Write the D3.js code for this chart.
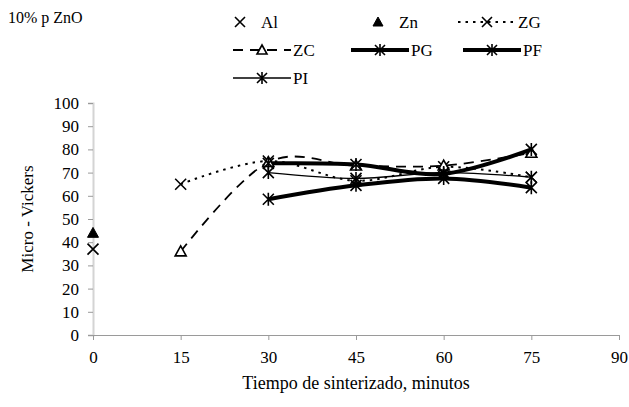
<!DOCTYPE html>
<html><head><meta charset="utf-8">
<script src="https://cdn.jsdelivr.net/npm/d3@7"></script>
<style>
body{margin:0;background:#fff}
svg{display:block}
text{font-family:"Liberation Serif","Times New Roman",serif;fill:#000}
</style>
</head><body>
<script>
// ---- data ----
const xTicks = [0, 15, 30, 45, 60, 75, 90];
const yTicks = [0, 10, 20, 30, 40, 50, 60, 70, 80, 90, 100];
const alX = [0],  alY = [37];
const znX = [0],  znY = [44];
const zgX = [15, 30, 45, 60, 75], zgY = [65, 75, 66.5, 72.5, 68];
const zcX = [15, 30, 45, 60, 75], zcY = [36, 74.5, 73, 73, 78.5];
const pgX = [30, 45, 60, 75], pgY = [58.5, 64.5, 67.5, 63.5];
const pfX = [30, 45, 60, 75], pfY = [74, 73.5, 69.5, 80];
const piX = [30, 45, 60, 75], piY = [70, 67.5, 70, 68];
const title = "10% p ZnO";
const xTitle = "Tiempo de sinterizado, minutos";
const yTitle = "Micro - Vickers";

const W = 629, H = 407;
const FONT = "'Liberation Serif','Times New Roman',serif";
const svg = d3.select("body").append("svg").attr("width", W).attr("height", H)
  .attr("font-family", FONT);

const x = d3.scaleLinear().domain([0, 90]).range([93, 619]);
const y = d3.scaleLinear().domain([0, 100]).range([335, 103]);

// axes
const yAx = svg.append("g").attr("transform", `translate(${x(0)},0)`)
  .call(d3.axisLeft(y).tickValues(yTicks).tickSize(5).tickPadding(9));
yAx.attr("font-family", FONT).attr("font-size", 17);
yAx.select(".domain").attr("stroke", "#d4d4d4").attr("stroke-width", 2);
yAx.selectAll(".tick line").attr("stroke", "#9a9a9a");
yAx.selectAll("text").attr("fill", "#000");

const xAx = svg.append("g").attr("transform", `translate(0,${y(0)})`)
  .call(d3.axisBottom(x).tickValues(xTicks).tickSize(5).tickPadding(11));
xAx.attr("font-family", FONT).attr("font-size", 17);
xAx.select(".domain").attr("stroke", "#9a9a9a").attr("stroke-width", 1);
xAx.selectAll(".tick line").attr("stroke", "#9a9a9a");
xAx.selectAll("text").attr("fill", "#000");

// titles
svg.append("text").attr("x", 8).attr("y", 23).attr("font-size", 16).text(title);
svg.append("text").attr("x", (x(0) + x(90)) / 2).attr("y", 389)
  .attr("text-anchor", "middle").attr("font-size", 18).text(xTitle);
svg.append("text").attr("transform", `translate(33,${(y(0) + y(100)) / 2}) rotate(-90)`)
  .attr("text-anchor", "middle").attr("font-size", 17).text(yTitle);

// marker drawing
function marker(g, type, cx, cy, s) {
  const h = s / 2;
  if (type === "x") {
    g.append("path").attr("d", `M${cx-h},${cy-h}L${cx+h},${cy+h}M${cx-h},${cy+h}L${cx+h},${cy-h}`)
      .attr("stroke", "#000").attr("stroke-width", 1.6).attr("fill", "none");
  } else if (type === "star") {
    g.append("path").attr("d", `M${cx-h},${cy-h}L${cx+h},${cy+h}M${cx-h},${cy+h}L${cx+h},${cy-h}M${cx},${cy-h-1}L${cx},${cy+h+1}`)
      .attr("stroke", "#000").attr("stroke-width", 1.6).attr("fill", "none");
  } else if (type === "tri" || type === "triOpen") {
    g.append("path").attr("d", `M${cx},${cy-h}L${cx+h},${cy+h*0.8}L${cx-h},${cy+h*0.8}Z`)
      .attr("stroke", "#000").attr("stroke-width", type === "tri" ? 1 : 1.6)
      .attr("fill", type === "tri" ? "#000" : "#fff");
  }
}

const series = [
  {name: "Al", xs: alX, ys: alY, line: null, m: "x"},
  {name: "Zn", xs: znX, ys: znY, line: null, m: "tri"},
  {name: "ZG", xs: zgX, ys: zgY, line: {w: 2, dash: "2.5,5"}, m: "x"},
  {name: "ZC", xs: zcX, ys: zcY, line: {w: 1.8, dash: "10,7"}, m: "triOpen"},
  {name: "PG", xs: pgX, ys: pgY, line: {w: 4, dash: null}, m: "star"},
  {name: "PF", xs: pfX, ys: pfY, line: {w: 4, dash: null}, m: "star"},
  {name: "PI", xs: piX, ys: piY, line: {w: 1.3, dash: null}, m: "star"}
];

const lineGen = d3.line().curve(d3.curveCardinal.tension(0)).x(d => x(d[0])).y(d => y(d[1]));
const plot = svg.append("g");
series.forEach(s => {
  if (!s.line) return;
  const pts = s.xs.map((v, i) => [v, s.ys[i]]);
  plot.append("path").attr("d", lineGen(pts)).attr("fill", "none")
    .attr("stroke", "#000").attr("stroke-width", s.line.w)
    .attr("stroke-dasharray", s.line.dash);
});
series.forEach(s => {
  s.xs.forEach((v, i) => marker(plot, s.m, x(v), y(s.ys[i]), 11));
});

// legend
const legendItems = [
  {s: 0, lx: 240, ly: 22},
  {s: 1, lx: 378, ly: 22},
  {s: 2, lx: 487, ly: 22},
  {s: 3, lx: 262, ly: 50},
  {s: 4, lx: 380, ly: 50},
  {s: 5, lx: 492, ly: 50},
  {s: 6, lx: 262, ly: 78}
];
const leg = svg.append("g");
legendItems.forEach(it => {
  const s = series[it.s];
  if (s.line) {
    leg.append("line").attr("x1", it.lx - 29).attr("x2", it.lx + 29)
      .attr("y1", it.ly).attr("y2", it.ly).attr("stroke", "#000")
      .attr("stroke-width", s.line.w).attr("stroke-dasharray", s.line.dash);
  }
  marker(leg, s.m, it.lx, it.ly, 10);
  leg.append("text").attr("x", it.lx + (s.line ? 31 : 21)).attr("y", it.ly + 6)
    .attr("font-size", 17).text(s.name);
});
</script>
</body></html>
